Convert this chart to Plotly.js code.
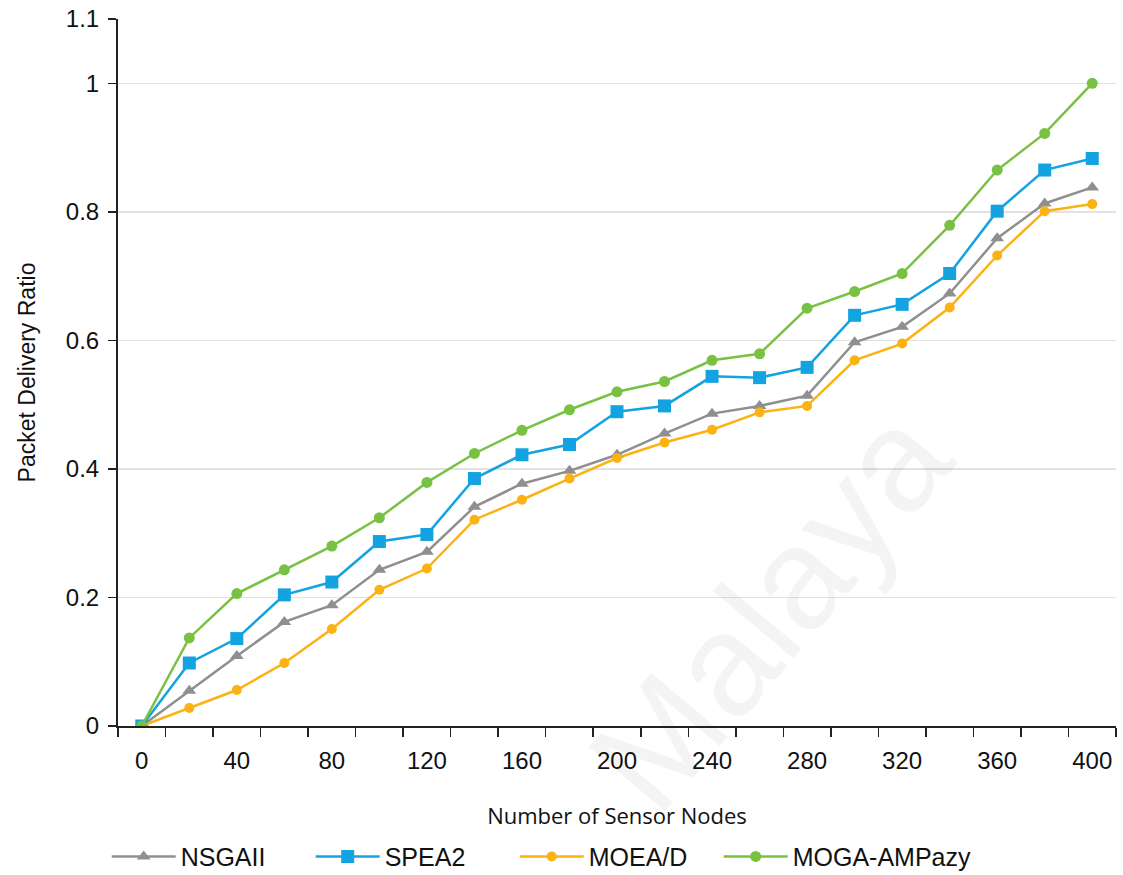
<!DOCTYPE html>
<html>
<head>
<meta charset="utf-8">
<script src="https://cdn.plot.ly/plotly-3.0.1.min.js"></script>
<style>html,body{margin:0;padding:0;background:#fff;}#chart{width:1123px;height:875px;}</style>
</head>
<body>
<div id="chart"></div>
<script>
const nodes = [0,20,40,60,80,100,120,140,160,180,200,220,240,260,280,300,320,340,360,380,400];
const nsga2 = [0,0.055,0.109,0.162,0.188,0.243,0.271,0.341,0.377,0.397,0.422,0.455,0.486,0.498,0.514,0.597,0.621,0.673,0.759,0.813,0.838];
const spea2 = [0,0.098,0.136,0.204,0.224,0.287,0.298,0.385,0.422,0.438,0.489,0.498,0.544,0.542,0.558,0.639,0.656,0.704,0.801,0.865,0.883];
const moead = [0,0.028,0.056,0.098,0.151,0.212,0.245,0.321,0.352,0.385,0.417,0.441,0.461,0.488,0.498,0.569,0.595,0.651,0.732,0.801,0.812];
const mogaAmpazy = [0,0.137,0.206,0.243,0.280,0.324,0.379,0.424,0.460,0.492,0.520,0.536,0.569,0.579,0.650,0.676,0.704,0.779,0.865,0.922,1.0];
const xTicks = [0,40,80,120,160,200,240,280,320,360,400];
const yTicks = [0,0.2,0.4,0.6,0.8,1,1.1];
const yTickText = ['0','0.2','0.4','0.6','0.8','1','1.1'];

const ARIAL = 'Liberation Sans, Arial, sans-serif';

const traces = [
  {x: nodes, y: nsga2, name: 'NSGAII', mode: 'lines+markers',
   line: {color: '#8f8f8f', width: 2.5}, marker: {symbol: 'triangle-up', size: 12, color: '#8f8f8f'}},
  {x: nodes, y: spea2, name: 'SPEA2', mode: 'lines+markers',
   line: {color: '#13a3e0', width: 2.5}, marker: {symbol: 'square', size: 13, color: '#13a3e0'}},
  {x: nodes, y: moead, name: 'MOEA/D', mode: 'lines+markers',
   line: {color: '#fbb212', width: 2.5}, marker: {symbol: 'circle', size: 10, color: '#fbb212'}},
  {x: nodes, y: mogaAmpazy, name: 'MOGA-AMPazy', mode: 'lines+markers', legendwidth: 175,
   line: {color: '#79c143', width: 2.5}, marker: {symbol: 'circle', size: 11, color: '#79c143'}}
];

const layout = {
  width: 1123, height: 875,
  margin: {l: 118, r: 7, t: 19, b: 149},
  paper_bgcolor: '#ffffff', plot_bgcolor: '#ffffff',
  font: {family: ARIAL, color: '#111'},
  showlegend: true,
  legend: {orientation: 'h', xref: 'container', yref: 'container',
           x: 0.095, xanchor: 'left', y: 0.021, yanchor: 'middle',
           font: {size: 25, family: ARIAL, color: '#111'},
           itemwidth: 64, entrywidth: 125, entrywidthmode: 'pixels', tracegroupgap: 0},
  xaxis: {
    range: [-10, 410], tickmode: 'array', tickvals: xTicks,
    ticks: '', showgrid: false, zeroline: false, automargin: false,
    showline: true, linecolor: '#222', linewidth: 2,
    ticklabelstandoff: 12,
    tickfont: {size: 24, family: ARIAL, color: '#111'},
    minor: {tick0: -10, dtick: 20, ticks: 'outside', ticklen: 9, tickwidth: 1.5, tickcolor: '#222', showgrid: false},
    title: {text: 'Number of Sensor Nodes', font: {size: 22, family: 'Open Sans, Noto Sans, sans-serif', color: '#111'}, standoff: 36}
  },
  yaxis: {
    range: [0, 1.1], tickmode: 'array', tickvals: yTicks, ticktext: yTickText,
    ticks: 'outside', ticklen: 8, tickwidth: 1.5, tickcolor: '#222',
    showgrid: true, gridcolor: '#e2e2e2', gridwidth: 1.5, zeroline: false, automargin: false,
    showline: true, linecolor: '#222', linewidth: 2,
    ticklabelstandoff: 4,
    tickfont: {size: 24, family: ARIAL, color: '#111'},
    title: {text: 'Packet Delivery Ratio', font: {size: 23, family: ARIAL, color: '#111'}, standoff: 24}
  },
  annotations: [
    {text: 'Malaya', xref: 'paper', yref: 'paper', x: 0.653, y: 0.165, xanchor: 'center', yanchor: 'middle', showarrow: false,
     textangle: -50, font: {size: 145, family: ARIAL, color: 'rgba(0,0,0,0.045)'}}
  ]
};

Plotly.newPlot('chart', traces, layout, {displayModeBar: false, staticPlot: true});
</script>
</body>
</html>
